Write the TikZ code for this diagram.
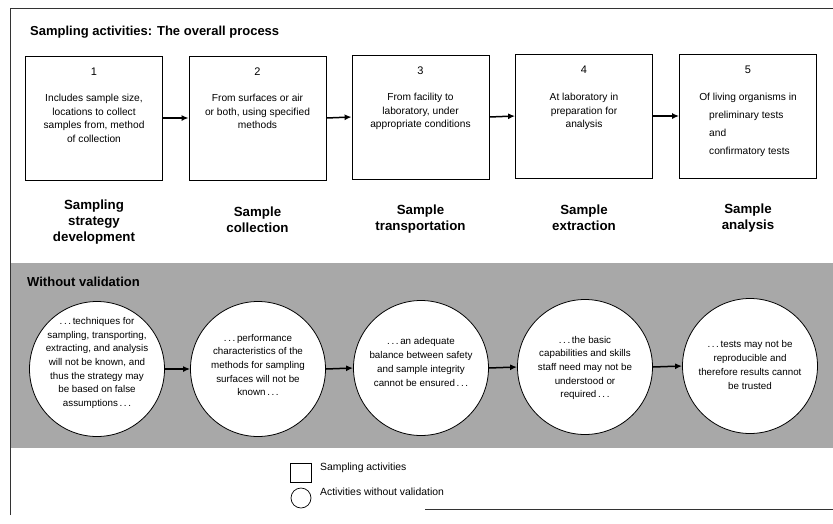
\documentclass[tikz,border=0pt]{standalone}
\usepackage{fontspec}
\setmainfont{Liberation Sans}
\usetikzlibrary{arrows.meta,shapes.geometric}
\definecolor{bandgray}{gray}{0.66}
\begin{document}
\begin{tikzpicture}[x=1pt,y=-1pt,
  boxst/.style={draw, line width=0.8pt, minimum width=137pt, minimum height=124pt, inner sep=0pt},
  circst/.style={draw, fill=white, circle, line width=0.8pt, minimum size=135pt, inner sep=0pt},
  btext/.style={font=\fontsize{10.2}{13.7}\selectfont, align=center, anchor=north, inner sep=0pt},
  ctext/.style={font=\fontsize{9.8}{13.7}\selectfont, align=center, inner sep=0pt},
  lbl/.style={font=\fontsize{13.3}{16}\selectfont\bfseries, align=center, inner sep=0pt},
  num/.style={font=\fontsize{11}{13}\selectfont, inner sep=0pt},
  head/.style={font=\fontsize{13}{15}\selectfont\bfseries, anchor=west, inner sep=0pt},
  legtext/.style={font=\fontsize{10.4}{12}\selectfont, anchor=west, inner sep=0pt},
  arr/.style={line width=1.5pt, -{Latex[length=7pt,width=6pt]}},
  framest/.style={line width=0.9pt, black!80}]
\useasboundingbox (0,0) rectangle (833,523);
\fill[white] (0,0) rectangle (833,523);
% band
\fill[bandgray] (10,263) rectangle (833,448);
% frame
\draw[framest] (10,515) -- (10,8) -- (833,8);
\draw[framest] (425,509) -- (833,509);
% title
\node[head] (title) at (30,32) {Sampling activities: The overall process};
% boxes
\node[boxst] (b1) at (94,118) {};
\node[boxst] (b2) at (257.5,118) {};
\node[boxst] (b3) at (420.5,117) {};
\node[boxst] (b4) at (584,116) {};
\node[boxst] (b5) at (748,116) {};
% numbers
\node[num] (n1) at (94,72) {1};
\node[num] (n2) at (257.5,72) {2};
\node[num] (n3) at (420.5,71) {3};
\node[num] (n4) at (584,70) {4};
\node[num] (n5) at (748,70) {5};
% box texts
\node[btext] (bt1) at (94,94) {Includes sample size,\\locations to collect\\samples from, method\\of collection};
\node[btext] (bt2) at (257.5,94) {From surfaces or air\\or both, using specified\\methods};
\node[btext] (bt3) at (420.5,93) {From facility to\\laboratory, under\\appropriate conditions};
\node[btext] (bt4) at (584,93) {At laboratory in\\preparation for\\analysis};
\node[btext] (bt5a) at (748,93) {Of living organisms in};
\node[font=\fontsize{10.2}{18}\selectfont, align=left, anchor=north west, inner sep=0pt] (bt5b) at (709,111) {preliminary tests\\and\\confirmatory tests};
% arrows boxes
\draw[arr] (b1.east) -- (b2.west);
\draw[arr] (b2.east) -- (b3.west);
\draw[arr] (b3.east) -- (b4.west);
\draw[arr] (b4.east) -- (b5.west);
% labels
\node[lbl] (l1) at (94,222) {Sampling\\strategy\\development};
\node[lbl] (l2) at (257.5,220) {Sample\\collection};
\node[lbl] (l3) at (420.5,219) {Sample\\transportation};
\node[lbl] (l4) at (584,218) {Sample\\extraction};
\node[lbl] (l5) at (748,218) {Sample\\analysis};
% without validation
\node[head] (wv) at (27,282) {Without validation};
% circles
\node[circst] (c1) at (97,369) {};
\node[circst] (c2) at (258,369) {};
\node[circst] (c3) at (421,368) {};
\node[circst] (c4) at (585,367) {};
\node[circst] (c5) at (750,366) {};
\node[ctext] (ct1) at (97,363) {.\,.\,.\,techniques for\\sampling, transporting,\\extracting, and analysis\\will not be known, and\\thus the strategy may\\be based on false\\assumptions\,.\,.\,.};
\node[ctext] (ct2) at (258,365) {.\,.\,.\,performance\\characteristics of the\\methods for sampling\\surfaces will not be\\known\,.\,.\,.};
\node[ctext] (ct3) at (421,362) {.\,.\,.\,an adequate\\balance between safety\\and sample integrity\\cannot be ensured\,.\,.\,.};
\node[ctext] (ct4) at (585,368) {.\,.\,.\,the basic\\capabilities and skills\\staff need may not be\\understood or\\required\,.\,.\,.};
\node[ctext] (ct5) at (750,365) {.\,.\,.\,tests may not be\\reproducible and\\therefore results cannot\\be trusted};
% arrows circles
\draw[arr] (c1.east) -- (c2.west);
\draw[arr] (c2.east) -- (c3.west);
\draw[arr] (c3.east) -- (c4.west);
\draw[arr] (c4.east) -- (c5.west);
% legend
\node[draw, line width=0.7pt, minimum width=21pt, minimum height=19pt, inner sep=0pt] (legbox) at (301,473) {};
\node[draw, circle, line width=0.7pt, minimum size=20pt, inner sep=0pt] (legcirc) at (301,498) {};
\node[legtext] (lt1) at (320,468) {Sampling activities};
\node[legtext] (lt2) at (320,492) {Activities without validation};
\end{tikzpicture}
\end{document}
